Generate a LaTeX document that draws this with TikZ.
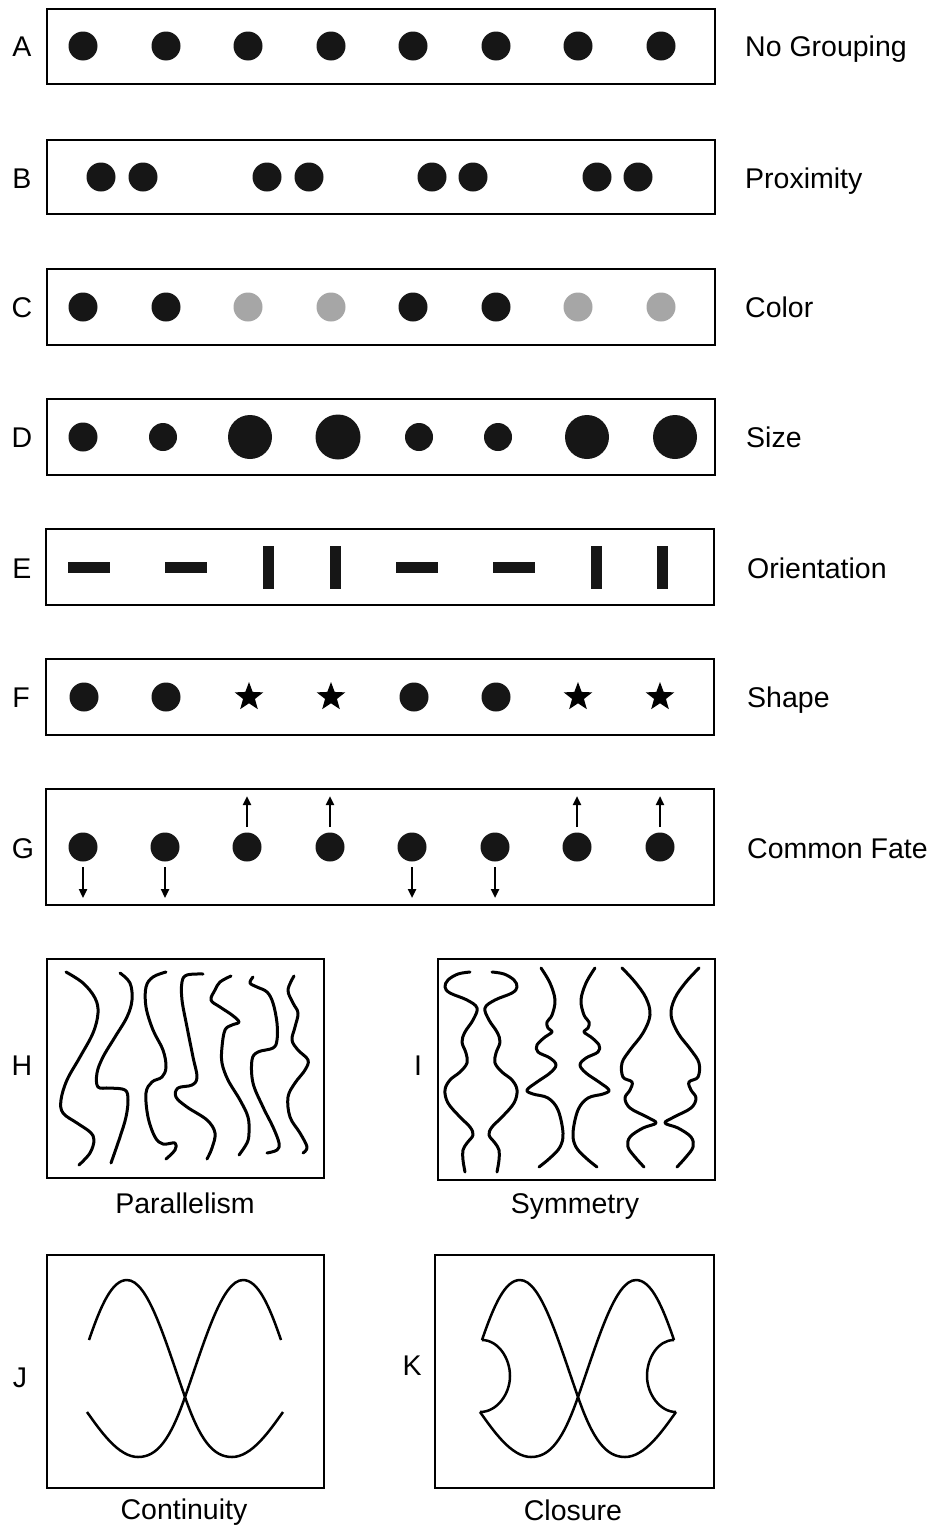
\documentclass[tikz,border=0pt]{standalone}
\usepackage{fontspec}
\setmainfont{Liberation Sans}
\usetikzlibrary{shapes.geometric,arrows.meta}
\definecolor{dotblack}{HTML}{161616}
\definecolor{dotgray}{HTML}{A6A6A6}
\newcommand\jcurveone{\draw[jline] (89,1340) .. controls (101,1305) and (112,1280) .. (127,1280) .. controls (148,1280) and (165,1340) .. (185,1397) .. controls (200,1440) and (213,1457) .. (232,1457) .. controls (252,1457) and (270,1430) .. (283,1412);}
\newcommand\jcurvetwo{\draw[jline] (281,1340) .. controls (269,1305) and (258,1280) .. (243,1280) .. controls (222,1280) and (205,1340) .. (185,1397) .. controls (170,1440) and (157,1457) .. (138,1457) .. controls (118,1457) and (100,1430) .. (87,1412);}
\newcommand\symcurveA{\draw[wave] plot[smooth,tension=0.6] coordinates {(470,972) (458,974) (448,980) (445,987) (450,993) (467,1000) (477,1008) (473,1020) (465,1032) (462,1042) (466,1053) (467,1063) (460,1072) (450,1080) (445,1090) (448,1103) (460,1117) (470,1127) (473,1135) (467,1143) (463,1150) (463,1160) (465,1172)};}
\newcommand\symcurveB{\draw[wave] plot[smooth,tension=0.6] coordinates {(541,968) (550,983) (555,1000) (552,1015) (547,1022) (548,1028) (552,1032) (545,1037) (537,1045) (538,1052) (550,1058) (556,1065) (550,1073) (537,1082) (527,1090) (533,1094) (548,1098) (558,1110) (563,1133) (560,1147) (550,1158) (539,1167)};}
\newcommand\symcurveC{\draw[wave] plot[smooth,tension=0.6] coordinates {(622,968) (635,982) (646,998) (650,1015) (643,1033) (630,1050) (622,1063) (623,1077) (632,1082) (630,1090) (625,1098) (630,1108) (647,1117) (656,1123) (643,1128) (630,1137) (628,1147) (635,1157) (644,1167)};}
\begin{document}
\begin{tikzpicture}[x=1pt,y=-1pt,
  panel/.style={draw=black,line width=2.5pt},
  dot/.style={circle,fill=dotblack,inner sep=0pt,minimum size=29pt},
  greydot/.style={dot,fill=dotgray},
  hbar/.style={rectangle,fill=dotblack,inner sep=0pt,minimum width=42pt,minimum height=11pt},
  vbar/.style={rectangle,fill=dotblack,inner sep=0pt,minimum width=11pt,minimum height=43pt},
  starmark/.style={star,star points=5,star point ratio=2.4,fill=black,inner sep=0pt,minimum size=30pt},
  arr/.style={line width=2.3pt,-{Triangle[length=9pt,width=8pt]}},
  lbl/.style={font=\fontsize{28.5}{32}\selectfont,anchor=base west,inner sep=0pt},
  letter/.style={font=\fontsize{28.5}{32}\selectfont,anchor=base,inner sep=0pt},
  caption/.style={font=\fontsize{28.5}{32}\selectfont,anchor=base,inner sep=0pt},
  wave/.style={line width=3pt,line cap=round,line join=round},
  jline/.style={line width=2.5pt,line join=round},
]
\fill[white] (0,0) rectangle (937,1526);
\useasboundingbox (0,0) rectangle (937,1526);

% panels
\draw[panel] (47,9) rectangle (715,84);
\draw[panel] (47,140) rectangle (715,214);
\draw[panel] (47,269) rectangle (715,345);
\draw[panel] (47,399) rectangle (715,475);
\draw[panel] (46,529) rectangle (714,605);
\draw[panel] (46,659) rectangle (714,735);
\draw[panel] (46,789) rectangle (714,905);
\draw[panel] (47,959) rectangle (324,1178);
\draw[panel] (438,959) rectangle (715,1180);
\draw[panel] (47,1255) rectangle (324,1488);
\draw[panel] (435,1255) rectangle (714,1488);

% A
\foreach \x [count=\i] in {83,166,248,331,413,496,578,661}
  \node[dot] (a\i) at (\x,46) {};
% B
\foreach \x [count=\i] in {101,143,267,309,432,473,597,638}
  \node[dot] (b\i) at (\x,177) {};
% C
\foreach \x/\s [count=\i] in {83/dot,166/dot,248/greydot,331/greydot,413/dot,496/dot,578/greydot,661/greydot}
  \node[\s] (c\i) at (\x,307) {};
% D
\foreach \x/\d [count=\i] in {83/29,163/28,250/44,338/45,419/28,498/28,587/44,675/44}
  \node[dot,minimum size=\d pt] (d\i) at (\x,437) {};
% E
\foreach \x/\s [count=\i] in {89/hbar,186/hbar,268/vbar,335/vbar,417/hbar,514/hbar,596/vbar,662/vbar}
  \node[\s] (e\i) at (\x,567) {};
% F
\foreach \x/\s [count=\i] in {84/dot,166/dot,249/starmark,331/starmark,414/dot,496/dot,578/starmark,660/starmark}
  \node[\s] (f\i) at (\x,697) {};
% G
\foreach \x [count=\i] in {83,165,247,330,412,495,577,660}
  \node[dot] (g\i) at (\x,847) {};
\foreach \i/\x in {1/83,2/165,5/412,6/495} {
  \coordinate (gs\i) at (\x,867);
  \coordinate (ge\i) at (\x,898);
  \draw[arr] (gs\i) -- (ge\i);
}
\foreach \i/\x in {3/247,4/330,7/577,8/660} {
  \coordinate (gs\i) at (\x,827);
  \coordinate (ge\i) at (\x,796);
  \draw[arr] (gs\i) -- (ge\i);
}

% H curves
\draw[wave] plot[smooth,tension=0.6] coordinates {(66,972) (83,983) (95,998) (98,1013) (93,1033) (80,1057) (67,1080) (61,1100) (63,1113) (77,1123) (90,1132) (94,1140) (90,1153) (79,1165)};
\draw[wave] plot[smooth,tension=0.6] coordinates {(120,973) (130,983) (132,1000) (127,1017) (115,1037) (103,1057) (97,1073) (98,1087) (110,1088) (125,1090) (128,1100) (126,1117) (120,1137) (111,1163)};
\draw[wave] plot[smooth,tension=0.6] coordinates {(166,972) (153,977) (146,987) (146,1007) (153,1030) (163,1050) (166,1067) (162,1077) (152,1082) (146,1093) (148,1117) (155,1137) (163,1144) (175,1143) (175,1150) (166,1159)};
\draw[wave] plot[smooth,tension=0.6] coordinates {(203,974) (187,975) (182,982) (182,1000) (187,1027) (193,1057) (197,1077) (192,1085) (178,1088) (176,1097) (187,1107) (207,1120) (215,1133) (212,1148) (207,1159)};
\draw[wave] plot[smooth,tension=0.6] coordinates {(231,976) (220,982) (215,990) (211,1000) (220,1007) (232,1015) (239,1022) (232,1025) (225,1030) (222,1047) (222,1063) (228,1080) (240,1100) (248,1117) (249,1133) (247,1143) (239,1155)};
\draw[wave] plot[smooth,tension=0.6] coordinates {(253,977) (250,983) (257,987) (267,992) (273,1003) (277,1023) (277,1040) (273,1048) (258,1052) (252,1060) (253,1083) (263,1107) (273,1127) (279,1143) (277,1150) (267,1153)};
\draw[wave] plot[smooth,tension=0.6] coordinates {(294,976) (288,990) (293,1003) (298,1013) (295,1027) (292,1040) (298,1050) (308,1060) (305,1070) (295,1083) (288,1097) (290,1117) (300,1133) (307,1147) (303,1153)};

% I curves (mirrored pairs)
\symcurveA
\begin{scope}[xshift=962pt,xscale=-1]\symcurveA\end{scope}
\symcurveB
\begin{scope}[xshift=1136pt,xscale=-1]\symcurveB\end{scope}
\symcurveC
\begin{scope}[xshift=1321pt,xscale=-1]\symcurveC\end{scope}

% J curves
\jcurveone
\jcurvetwo

% K curves
\begin{scope}[xshift=393pt]
\jcurveone
\jcurvetwo
\draw[jline] (89,1340) .. controls (105,1340) and (117,1358) .. (117,1376) .. controls (117,1394) and (104,1412) .. (87,1412);
\draw[jline] (281,1340) .. controls (265,1340) and (254,1358) .. (254,1376) .. controls (254,1394) and (267,1412) .. (283,1412);
\end{scope}

% right labels
\node[lbl] (tA) at (745,56) {No Grouping};
\node[lbl] (tB) at (745,188) {Proximity};
\node[lbl] (tC) at (745,317) {Color};
\node[lbl] (tD) at (746,447) {Size};
\node[lbl] (tE) at (747,578) {Orientation};
\node[lbl] (tF) at (747,707) {Shape};
\node[lbl] (tG) at (747,858) {Common Fate};

% captions
\node[caption] (tH) at (185,1213) {Parallelism};
\node[caption] (tI) at (575,1213) {Symmetry};
\node[caption] (tJ) at (184,1519) {Continuity};
\node[caption] (tK) at (573,1520) {Closure};

% letters
\node[letter] (lA) at (22,56) {A};
\node[letter] (lB) at (22,188) {B};
\node[letter] (lC) at (22,317) {C};
\node[letter] (lD) at (22,447) {D};
\node[letter] (lE) at (22,578) {E};
\node[letter] (lF) at (21,707) {F};
\node[letter] (lG) at (23,858) {G};
\node[letter] (lH) at (22,1075) {H};
\node[letter] (lI) at (418,1075) {I};
\node[letter] (lJ) at (20,1387) {J};
\node[letter] (lK) at (412,1375) {K};
\end{tikzpicture}
\end{document}
